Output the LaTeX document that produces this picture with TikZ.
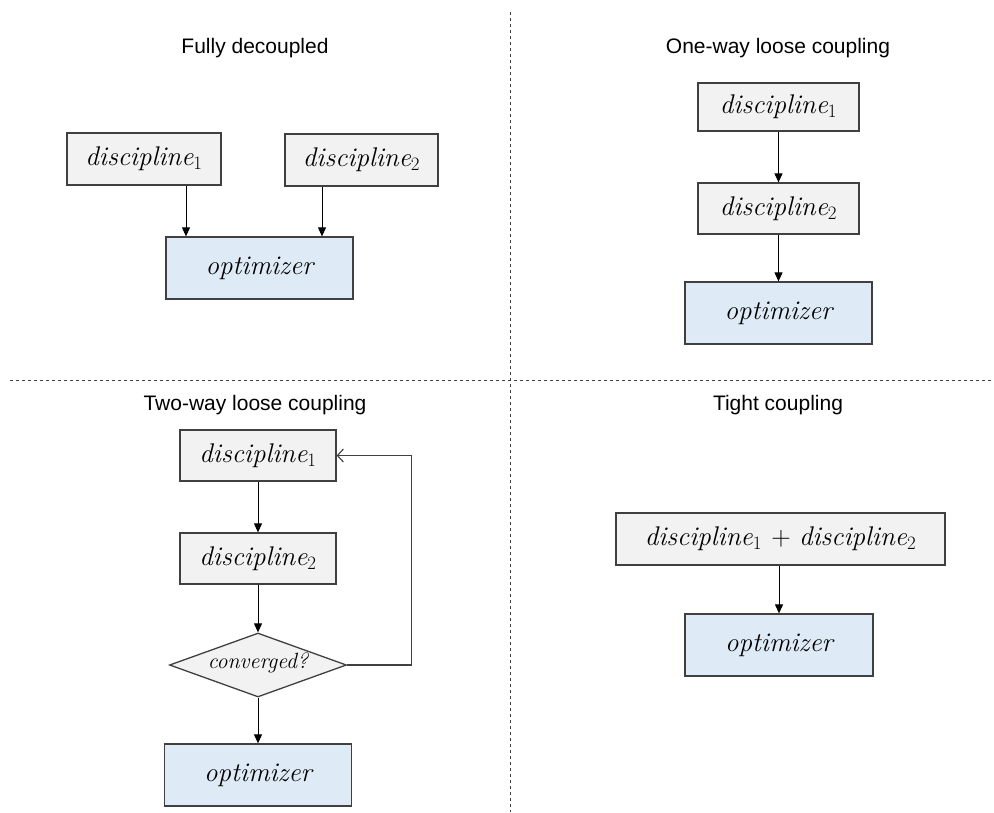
\documentclass[tikz,border=0pt]{standalone}
\usepackage{fontspec}
\newfontfamily\titlefont{Liberation Sans}
\usetikzlibrary{shapes.geometric,arrows.meta,calc}
\definecolor{boxgray}{HTML}{F2F2F2}
\definecolor{boxblue}{HTML}{DEEBF7}
\definecolor{edge}{HTML}{404040}
\newcommand{\sbx}[1]{\textsubscript{\upshape #1}}
\tikzset{
  x=1pt, y=-1pt,
  box/.style={draw=edge, line width=1.3pt, fill=boxgray, inner sep=0pt, rectangle,
    font=\fontsize{27}{30}\selectfont\itshape},
  opt/.style={box, fill=boxblue, minimum width=187pt, minimum height=62pt},
  title/.style={font=\titlefont\fontsize{21}{25}\selectfont, inner sep=0pt},
  arr/.style={draw=black, line width=1pt, -{Triangle[length=9pt,width=8pt]}},
  fb/.style={draw=edge, line width=1.1pt, -{Straight Barb[length=6pt,width=13pt]}},
  sep/.style={draw=edge, line width=1pt, dash pattern=on 3pt off 3pt},
  dia/.style={diamond, draw=edge, line width=1.3pt, fill=boxgray, inner sep=0pt,
    minimum width=177pt, minimum height=64pt, font=\fontsize{22}{26}\selectfont\itshape}
}
\begin{document}
\begin{tikzpicture}
\useasboundingbox (0,0) rectangle (994,812);
\fill[white] (0,0) rectangle (994,812);
% separators
\coordinate (vtop) at (510,12);
\coordinate (vbot) at (510,812);
\coordinate (hl) at (10,380);
\coordinate (hr) at (994,380);
\draw[sep] (vtop) -- (vbot);
\draw[sep] (hl) -- (hr);

% Quadrant 1
\node[title] (t1) at (255,48) {Fully decoupled};
\node[box, minimum width=154pt, minimum height=52pt] (a1) at (144,159) {discipline\sbx{1}};
\node[box, minimum width=153pt, minimum height=52pt] (a2) at (361.5,160) {discipline\sbx{2}};
\node[opt] (ao) at (259.5,268) {optimizer};
\draw[arr] ([xshift=42]a1.south) -- ([xshift=42]a1.south |- ao.north);
\draw[arr] ([xshift=-39.5]a2.south) -- ([xshift=-39.5]a2.south |- ao.north);

% Quadrant 2
\node[title] (t2) at (778,48) {One-way loose coupling};
\node[box, minimum width=161pt, minimum height=48pt] (b1) at (778.5,107) {discipline\sbx{1}};
\node[box, minimum width=161pt, minimum height=51pt] (b2) at (778.5,208.5) {discipline\sbx{2}};
\node[opt] (bo) at (778.5,313) {optimizer};
\draw[arr] (b1) -- (b2);
\draw[arr] (b2) -- (bo);

% Quadrant 3
\node[title] (t3) at (255,405) {Two-way loose coupling};
\node[box, minimum width=156pt, minimum height=51pt] (c1) at (258,455.5) {discipline\sbx{1}};
\node[box, minimum width=156pt, minimum height=51pt] (c2) at (258,558.5) {discipline\sbx{2}};
\node[dia] (cd) at (258,665) {\smash{\makebox[0pt]{\raisebox{-0.35ex}{converged?}}}};
\node[opt] (co) at (258,775) {optimizer};
\draw[arr] (c1) -- (c2);
\draw[arr] (c2) -- (cd);
\draw[arr] (cd) -- (co);
\draw[fb] (cd.east) -- ++(64,0) |- (c1.east);

% Quadrant 4
\node[title] (t4) at (778,405) {Tight coupling};
\node[box, minimum width=329pt, minimum height=52pt] (d1) at (780.5,539) {discipline\sbx{1} \upshape + \itshape discipline\sbx{2}};
\node[opt, minimum width=188pt] (do) at (779,645) {optimizer};
\draw[arr] (d1.south -| do.north) -- (do.north);
\end{tikzpicture}
\end{document}
